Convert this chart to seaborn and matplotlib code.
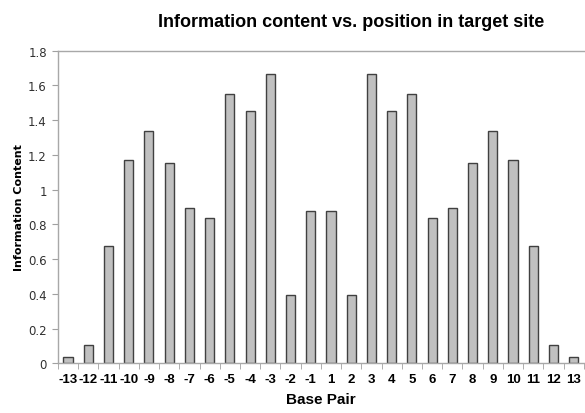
import numpy as np
import pandas as pd
import seaborn as sns
import matplotlib.pyplot as plt

# Data
positions = [-13, -12, -11, -10, -9, -8, -7, -6, -5, -4, -3, -2, -1,
             1, 2, 3, 4, 5, 6, 7, 8, 9, 10, 11, 12, 13]
left_half = [0.035, 0.105, 0.677, 1.170, 1.336, 1.155, 0.896, 0.835,
             1.549, 1.451, 1.667, 0.391, 0.879]
right_half = [0.879, 0.391, 1.667, 1.451, 1.549, 0.835, 0.896, 1.155,
              1.336, 1.170, 0.677, 0.105, 0.035]
y_ticks = [0, 0.2, 0.4, 0.6, 0.8, 1, 1.2, 1.4, 1.6, 1.8]
y_tick_labels = ["0", "0.2", "0.4", "0.6", "0.8", "1", "1.2", "1.4", "1.6", "1.8"]

df = pd.DataFrame({
    "pos": [str(p) for p in positions],
    "info": left_half + right_half,
})

sns.set_style("white")
plt.rcParams['font.family'] = ['Liberation Sans', 'DejaVu Sans']
plt.rcParams['text.color'] = 'black'

fig = plt.figure(figsize=(5.85, 4.14), dpi=100)
ax = fig.add_axes([0.099, 0.12, 0.899, 0.755])

sns.barplot(data=df, x="pos", y="info", order=df["pos"].tolist(),
            color="#c0c0c0", edgecolor="#404040", linewidth=1.0,
            width=0.45, saturation=1, ax=ax)

ax.set_xlim(-0.5, len(positions) - 0.5)
ax.set_ylim(0, 1.8)
ax.set_yticks(y_ticks)
ax.set_yticklabels(y_tick_labels, family="DejaVu Sans", fontsize=8.5, color="#303030")

# Excel-style ticks between categories
ax.set_xticks(np.arange(len(positions)))
ax.set_xticklabels(df["pos"], fontsize=9.5, fontweight="bold", color="black")
ax.tick_params(axis="x", length=0, pad=7)
ax.set_xticks(np.arange(len(positions) + 1) - 0.5, minor=True)
ax.tick_params(axis="x", which="minor", direction="out", length=4,
               color="#a0a0a0", bottom=True)
ax.tick_params(axis="y", direction="out", length=4, color="#a0a0a0",
               left=True, pad=4)

for side in ["left", "bottom", "top"]:
    ax.spines[side].set_visible(True)
    ax.spines[side].set_color("#a8a8a8")
    ax.spines[side].set_linewidth(1.0)
ax.spines["right"].set_visible(False)

ax.set_xlabel("Base Pair", fontsize=11, fontweight="bold", labelpad=5, color="black")
ax.set_ylabel("Information Content", fontsize=8, fontweight="bold",
              family="DejaVu Sans", labelpad=3, color="black")

fig.text(0.6, 0.945, "Information content vs. position in target site",
         ha="center", va="center", fontsize=13, fontweight="bold", color="black")

fig.savefig("out.png", dpi=100)
